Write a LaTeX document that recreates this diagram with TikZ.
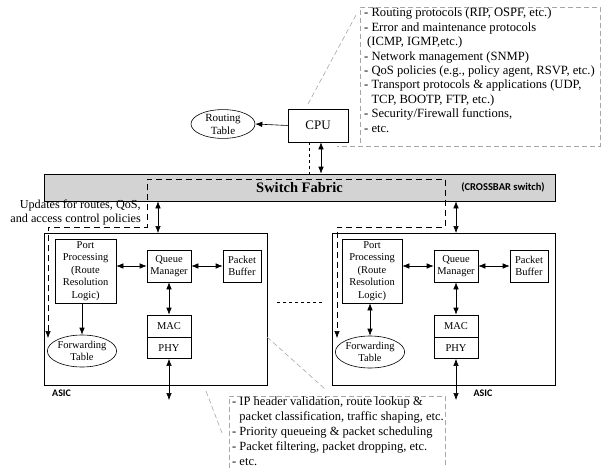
\documentclass[tikz,border=0pt]{standalone}
\usepackage{fontspec}
\setmainfont{Liberation Serif}
\newfontfamily\labelfont{Carlito}
\usepackage{tikz}
\usetikzlibrary{calc,arrows.meta,positioning,shapes.geometric}
\definecolor{barc}{HTML}{D3D3D3}
\definecolor{notec}{HTML}{A6A6A6}
\tikzset{
  blk/.style={draw,line width=0.6pt,align=center,inner sep=0pt,font=\fontsize{10.5}{12.5}\selectfont},
  oval/.style={draw,line width=0.6pt,ellipse,inner sep=0pt,align=center,font=\fontsize{10.5}{12}\selectfont},
  ar/.style={-{Latex[length=7pt,width=5.5pt]},line width=0.6pt},
  dar/.style={{Latex[length=7pt,width=5.5pt]}-{Latex[length=7pt,width=5.5pt]},line width=0.6pt},
  upd/.style={{Latex[length=7pt,width=5.5pt]}-{Latex[length=7pt,width=5.5pt]},line width=0.6pt,dash pattern=on 6pt off 4pt},
  note/.style={notec,line width=0.6pt,dash pattern=on 5pt off 3pt},
  tag/.style={font=\labelfont\bfseries\fontsize{10}{11}\selectfont,inner sep=0pt}
}
\begin{document}
\begin{tikzpicture}[x=1pt,y=-1pt]
\useasboundingbox (0,0) rectangle (602,468);
% control plane
\node[blk,minimum width=60,minimum height=33,font=\fontsize{13}{15}\selectfont] (cpu) at (318,125.5) {CPU};
\node[oval,minimum width=64,minimum height=28,font=\fontsize{11}{13}\selectfont] (rtab) at (223,124) {Routing\\Table};
\draw[ar] (cpu.west) -- (rtab.east);
\draw[note] (308,104) -- (356,15);
\draw[note] (360,143) -- (360,7) -- (600,7) -- (600,146) -- (337,146);
\node[anchor=north west,align=left,inner sep=0pt,font=\fontsize{12.6}{14.4}\selectfont] (ctrl) at (364,8) {- Routing protocols (RIP, OSPF, etc.)\\
- Error and maintenance protocols\\
\hspace*{3pt}(ICMP, IGMP,etc.)\\
- Network management (SNMP)\\
- QoS policies (e.g., policy agent, RSVP, etc.)\\
- Transport protocols \& applications (UDP,\\
\phantom{- }TCP, BOOTP, FTP, etc.)\\
- Security/Firewall functions,\\
- etc.};
% switch fabric
\node[draw,line width=0.6pt,fill=barc,minimum width=511,minimum height=27,inner sep=0pt,font=\bfseries\fontsize{14.5}{16}\selectfont] (fabric) at (299.5,187.5) {Switch Fabric};
\node[tag,font=\labelfont\bfseries\fontsize{10.5}{12}\selectfont] (xbar) at (503,187) {(CROSSBAR switch)};
\draw[dashed,line width=0.6pt] ([xshift=-9pt]cpu.south) -- ([xshift=-9pt]cpu.south |- fabric.north);
\draw[dar] ([xshift=3pt]cpu.south) -- ([xshift=3pt]cpu.south |- fabric.north);
\node[anchor=east,align=right,inner sep=0pt,font=\fontsize{12.2}{14}\selectfont] (updtxt) at (141,213) {Updates for routes, QoS,\\and access control policies};
% left ASIC
\node[draw,line width=0.6pt,minimum width=223,minimum height=152,inner sep=0pt] (asicL) at (155.5,309) {};
\node[blk,minimum width=61,minimum height=64] (portL) at (85.5,271) {Port\\Processing\\(Route\\Resolution\\Logic)};
\node[blk,minimum width=44,minimum height=32] (queueL) at (169,266) {Queue\\Manager};
\node[blk,minimum width=38,minimum height=32] (bufL) at (242,266) {Packet\\Buffer};
\node[blk,minimum width=44,minimum height=22] (macL) at (169,326) {MAC};
\node[blk,minimum width=44,minimum height=21,anchor=north] (phyL) at (macL.south) {PHY};
\node[oval,minimum width=65,minimum height=32] (fwdL) at (82,351) {Forwarding\\Table};
\node[tag,anchor=west] (asicLlbl) at (52,393) {ASIC};
% right ASIC
\node[draw,line width=0.6pt,minimum width=223,minimum height=152,inner sep=0pt] (asicR) at (443.5,309) {};
\node[blk,minimum width=60,minimum height=64] (portR) at (372,271) {Port\\Processing\\(Route\\Resolution\\Logic)};
\node[blk,minimum width=44,minimum height=32] (queueR) at (456,266) {Queue\\Manager};
\node[blk,minimum width=38,minimum height=32] (bufR) at (529,266) {Packet\\Buffer};
\node[blk,minimum width=44,minimum height=22] (macR) at (456,326) {MAC};
\node[blk,minimum width=44,minimum height=21,anchor=north] (phyR) at (macR.south) {PHY};
\node[oval,minimum width=65,minimum height=32] (fwdR) at (370,352) {Forwarding\\Table};
\node[tag] (asicRlbl) at (483,393) {ASIC};
% connectors inside the line cards
\draw[dar] (queueL.west -| portL.east) -- (queueL.west);
\draw[dar] (queueL) -- (bufL);
\draw[dar] (queueL) -- (macL);
\draw[ar] (fwdL.north |- portL.south) -- (fwdL.north);
\draw[dar] (queueR.west -| portR.east) -- (queueR.west);
\draw[dar] (queueR) -- (bufR);
\draw[dar] (queueR) -- (macR);
\draw[dar] (fwdR.north |- portR.south) -- (fwdR.north);
\coordinate (outL) at (169,400); \coordinate (outR) at (456,400);
\draw[dar] (phyL) -- (outL);
\draw[dar] (phyR) -- (outR);
\coordinate (busL) at (158,233); \coordinate (busR) at (456,233);
\draw[dar] (fabric.south -| busL) -- (busL);
\draw[dar] (fabric.south -| busR) -- (busR);
\draw[dashed,line width=0.6pt] ([xshift=10pt,yshift=7pt]asicL.east) -- ([xshift=-10pt,yshift=7pt]asicR.west);
% route updates to the forwarding tables
\coordinate (updL) at (48,338); \coordinate (updR) at (337,338);
\draw[upd] (updL) |- (147,227) |- (445,179) |- (337,227) -- (updR);
% data plane note
\draw[note] (267,337) -- (325,389);
\draw[note] (206,391) -- (222,433);
\draw[note] (229,468) -- (229,396) -- (445,396) -- (445,468);
\node[anchor=north west,align=left,inner sep=0pt,font=\fontsize{12.5}{15}\selectfont] (dnote) at (232,396.5) {- IP header validation, route lookup \&\\
\phantom{- }packet classification, traffic shaping, etc.\\
- Priority queueing \& packet scheduling\\
- Packet filtering, packet dropping, etc.\\
- etc.};
\end{tikzpicture}
\end{document}
